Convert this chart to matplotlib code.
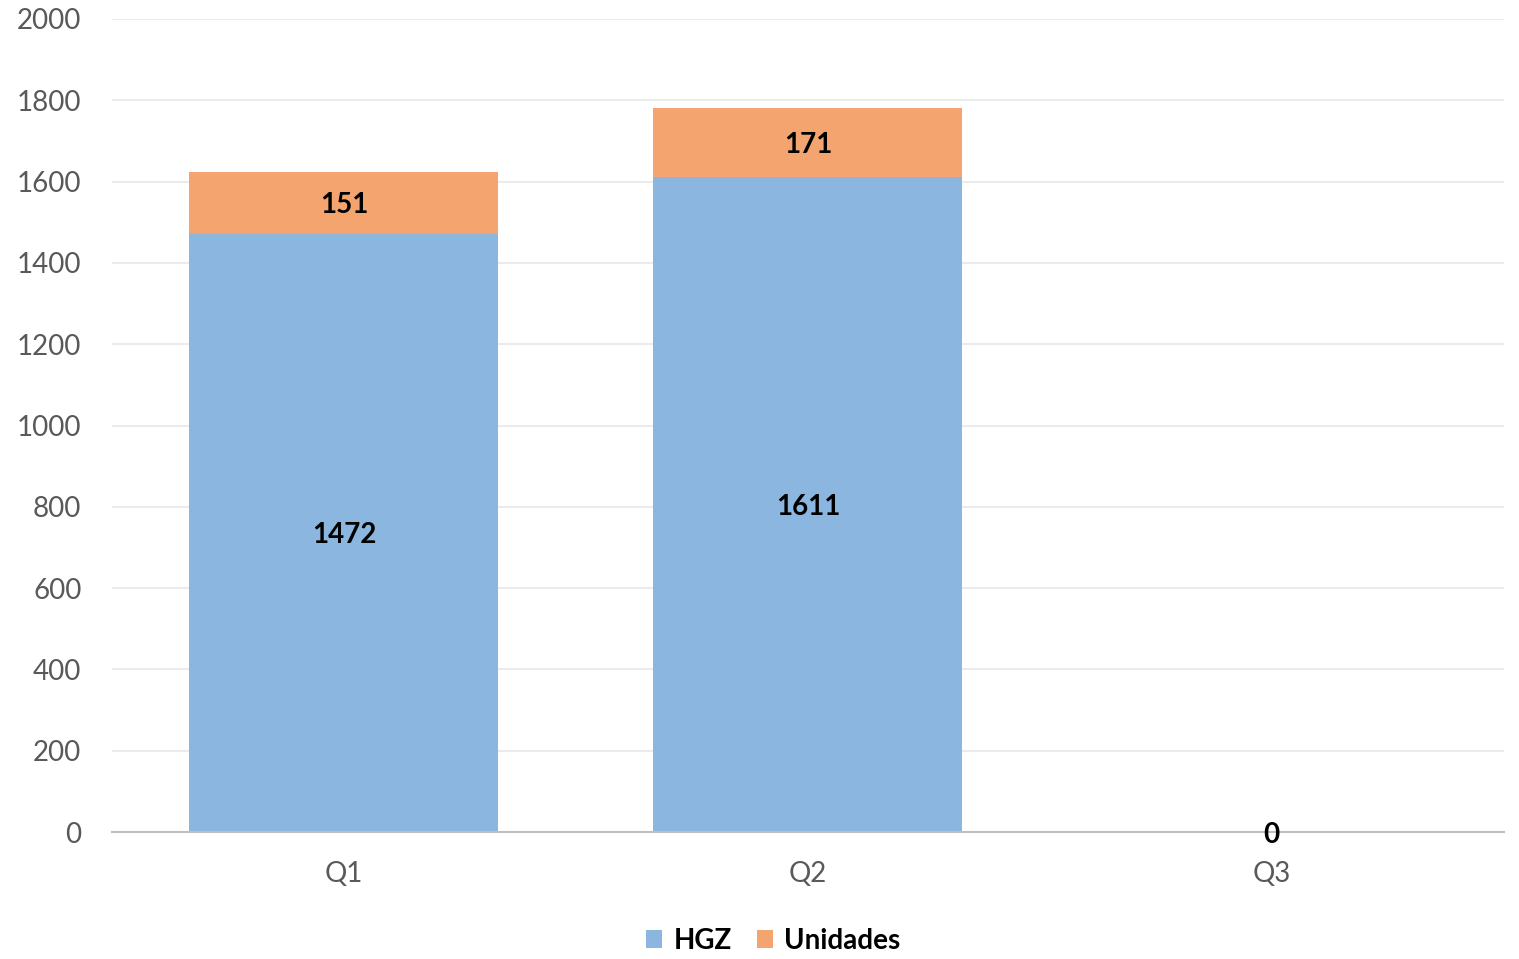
import matplotlib.pyplot as plt
import numpy as np

quarters = ['Q1', 'Q2', 'Q3']
hgz = [1472, 1611, 0]
unidades = [151, 171, 0]

plt.rcParams['font.family'] = ['Lato', 'DejaVu Sans']

fig = plt.figure(figsize=(15.19, 9.59), dpi=100)
ax = fig.add_axes([0.0737, 0.1324, 0.9163, 0.8478])

x = np.arange(len(quarters))
w = 0.666
b1 = ax.bar(x, hgz, width=w, color='#8AB6E0', label='HGZ', zorder=2)
b2 = ax.bar(x, unidades, width=w, bottom=hgz, color='#F4A46E', label='Unidades', zorder=2)

# labels centred in each segment
for i in range(len(quarters)):
    if hgz[i] + unidades[i] == 0:
        ax.text(x[i], 0, '0', ha='center', va='center_baseline', fontsize=20,
                fontweight='bold', color='black', zorder=5)
        continue
    ax.text(x[i], hgz[i] / 2, str(hgz[i]), ha='center', va='center_baseline',
            fontsize=20, fontweight='bold', color='black', zorder=5)
    ax.text(x[i], hgz[i] + unidades[i] / 2, str(unidades[i]), ha='center',
            va='center_baseline', fontsize=20, fontweight='bold', color='black', zorder=5)

ax.set_xlim(-0.5, 2.5)
ax.set_ylim(0, 2000)
ax.set_yticks(range(0, 2001, 200))
ax.set_xticks(x)
ax.set_xticklabels(quarters)
ax.tick_params(axis='both', length=0, labelsize=20, colors='#595959')
ax.tick_params(axis='x', pad=21)
ax.tick_params(axis='y', pad=22)
ax.grid(axis='y', color='#EBEBEB', linewidth=1.5, zorder=0)
for s in ['top', 'right', 'left']:
    ax.spines[s].set_visible(False)
ax.spines['bottom'].set_color('#BFBFBF')
ax.spines['bottom'].set_linewidth(1.5)
ax.spines['bottom'].set_zorder(4)

leg = fig.legend(handles=[b1, b2], loc='center', bbox_to_anchor=(0.509, 0.019),
                 ncol=2, frameon=False, handlelength=0.6, handleheight=0.6,
                 handletextpad=0.4, columnspacing=0.9,
                 prop={'size': 20, 'weight': 'bold'})

fig.savefig('out.png', dpi=100)
